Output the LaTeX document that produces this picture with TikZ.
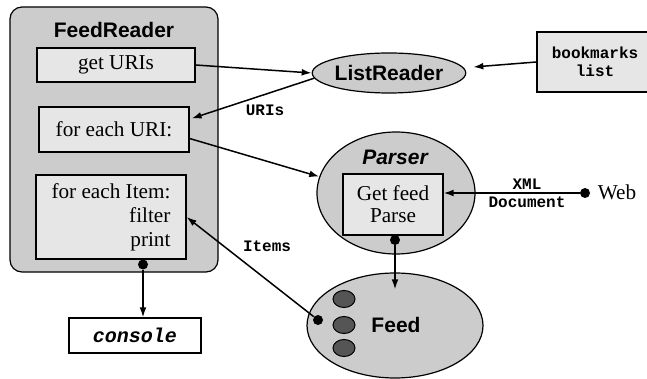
\documentclass[tikz,border=0pt]{standalone}
\usepackage{fontspec}
\setmainfont{Liberation Serif}
\setsansfont{Liberation Sans}
\setmonofont{Liberation Mono}
\usepackage{tikz}
\usepackage{xcolor}
\usetikzlibrary{arrows.meta,positioning,shapes.geometric,calc}
\definecolor{ink}      {HTML}{000000}
\definecolor{outergray}{HTML}{CCCCCC}
\definecolor{boxgray}  {HTML}{E6E6E6}
\definecolor{itemgray} {HTML}{555555}
\tikzset{
  outerbox/.style  ={draw=ink, fill=outergray, line width=0.6pt, rounded corners=6pt,
                     minimum width=104pt, minimum height=132.5pt},
  stepbox/.style   ={draw=ink, fill=boxgray, line width=0.6pt, inner sep=2pt,
                     align=center, font=\fontsize{10.6}{11}\selectfont},
  blob/.style      ={ellipse, draw=ink, fill=outergray, line width=0.6pt, inner sep=0pt},
  titletxt/.style  ={font=\sffamily\bfseries\fontsize{10.5}{12}\selectfont},
  codetxt/.style   ={font=\ttfamily\bfseries\fontsize{8}{9}\selectfont, align=center},
  dot/.style       ={circle, fill=ink, inner sep=0pt, minimum size=5pt},
  flowarr/.style   ={-{Latex[length=5pt,width=3.4pt]}, line width=0.75pt},
}
\begin{document}
\begin{tikzpicture}[x=0.5pt,y=-0.5pt]
    \useasboundingbox (0,0) rectangle (647,379);

    % FeedReader
    \node[outerbox] (feedReader) at (114,139.5) {};
    \node[titletxt] (frTitle) at (114,30) {FeedReader};
    \node[stepbox,minimum width=79pt,minimum height=17pt] (getUris) at (116,65) {get URIs};
    \node[stepbox,minimum width=75pt,minimum height=22.5pt] (eachUri) at (114,129.5) {for each URI:};
    \node[stepbox,minimum width=75pt,minimum height=42pt,align=right,
          font=\fontsize{10.6}{12}\selectfont] (eachItem) at (111,217)
      {for each Item:\\filter\\print};
    \node[dot] (printDot) at (143,264.5) {};
    \node[stepbox,fill=white,minimum width=66pt,minimum height=17.5pt,
          font=\ttfamily\bfseries\itshape\fontsize{10}{12}\selectfont] (console) at (135,335.5) {console};

    % ListReader
    \node[blob,minimum width=74pt,minimum height=20pt,titletxt] (listReader) at (389,73) {ListReader};
    \node[stepbox,minimum width=58pt,minimum height=30pt,codetxt] (bookmarks) at (595,62) {bookmarks\\list};

    % Parser
    \node[blob,minimum width=79pt,minimum height=61pt] (parser) at (396,193) {};
    \node[titletxt,font=\sffamily\bfseries\itshape\fontsize{10.5}{12}\selectfont] (parserTitle) at (395,157) {Parser};
    \node[stepbox,minimum width=50pt,minimum height=30.5pt,
          font=\fontsize{10.6}{11}\selectfont] (getFeed) at (393,204.5) {Get feed\\Parse};
    \node[dot] (parseDot) at (395,240) {};
    \node[dot] (webDot) at (585,193) {};
    \node[font=\fontsize{10.6}{12}\selectfont] (web) at (617,192) {Web};
    \node[codetxt] (xmlDoc) at (527,193) {XML\\Document};

    % Feed
    \node[blob,minimum width=88pt,minimum height=52.5pt] (feed) at (395,325.5) {};
    \foreach \y [count=\i] in {299,325,348}
      \node[ellipse,draw=ink,fill=itemgray,line width=0.5pt,inner sep=0pt,
            minimum width=11pt,minimum height=8.5pt] (item\i) at (344,\y) {};
    \node[titletxt] (feedLabel) at (396,325) {Feed};
    \node[dot] (feedDot) at (318,320) {};

    % connectors
    \draw[flowarr] (getUris.east) -- (listReader.west);
    \draw[flowarr] (bookmarks.west) -- ([shift={(7,-6)}]listReader.east);
    \draw[flowarr] (listReader.184) -- ([shift={(2,-11)}]eachUri.east);
    \draw[flowarr] ([yshift=-4.5pt]eachUri.east) -- (parser.168);
    \draw[flowarr] (webDot) -- (getFeed.east |- webDot);
    \draw[flowarr] (parseDot) -- ([shift={(0,17)}]feed.north);
    \draw[flowarr] (feedDot) -- (eachItem.east);
    \draw[flowarr] (printDot) -- (printDot |- console.north);

    \node[codetxt] (urisLabel) at (265,110) {URIs};
    \node[codetxt] (itemsLabel) at (267,246) {Items};
\end{tikzpicture}
\end{document}
